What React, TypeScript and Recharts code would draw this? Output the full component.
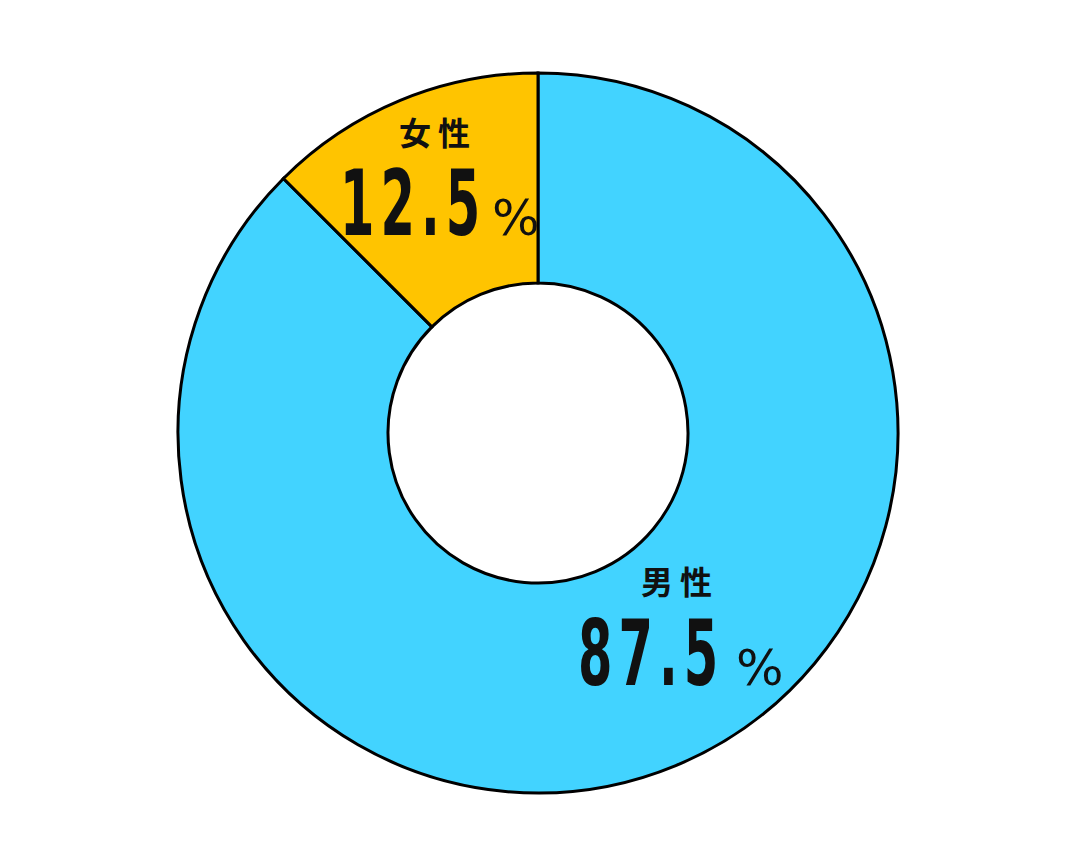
import { PieChart, Pie, Cell } from 'recharts';

const categories = ['男性', '女性'];
const shares = [87.5, 12.5];
const colors = ['#42D3FF', '#FFC400'];

// label offsets from the centre of the donut, per slice
const labelSpots = [
    { name: [142, 161], value: [40, 252], pct: [198, 252] },
    { name: [-100, -288], value: [-198, -198], pct: [-46, -198] },
];

const data = categories.map((name, i) => ({ name, value: shares[i] }));

const renderLabel = (props) => {
    const { cx, cy, index } = props;
    const spot = labelSpots[index];
    const vx = cx + spot.value[0];
    const vy = cy + spot.value[1];
    return (
        <g>
            <text
                x={cx + spot.name[0]}
                y={cy + spot.name[1]}
                textAnchor="middle"
                fill="#111"
                style={{ fontFamily: '"Noto Sans CJK JP"', fontWeight: 700, fontSize: 32, letterSpacing: 7 }}
            >
                {categories[index]}
            </text>
            <text
                x={0}
                y={0}
                transform={`translate(${vx},${vy}) scale(0.55,1)`}
                textAnchor="start"
                fill="#111"
                style={{ fontFamily: '"DejaVu Sans"', fontSize: 90, fontWeight: 700, letterSpacing: 11 }}
            >
                {shares[index]}
            </text>
            <text
                x={cx + spot.pct[0]}
                y={cy + spot.pct[1]}
                textAnchor="start"
                fill="#111"
                style={{ fontFamily: '"DejaVu Sans"', fontSize: 50, fontWeight: 400 }}
            >
                %
            </text>
        </g>
    );
};

const App = () => {
    return (
        <div style={{ position: 'absolute', left: 0, top: 0, background: 'white' }}>
            <PieChart width={1076} height={866} margin={{ top: 0, right: 0, bottom: 0, left: 0 }}>
                <Pie
                    data={data}
                    dataKey="value"
                    cx={538}
                    cy={433}
                    innerRadius={150}
                    outerRadius={360}
                    startAngle={90}
                    endAngle={-270}
                    stroke="#000"
                    strokeWidth={3}
                    label={renderLabel}
                    labelLine={false}
                    isAnimationActive={false}
                >
                    {data.map((d, i) => (
                        <Cell key={d.name} fill={colors[i]} />
                    ))}
                </Pie>
            </PieChart>
        </div>
    );
};

export default App;
